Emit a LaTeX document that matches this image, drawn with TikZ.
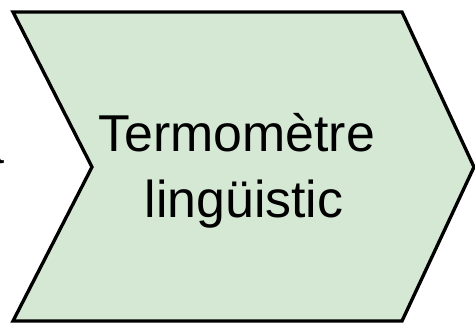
\documentclass[tikz,border=0pt]{standalone}
\usepackage{fontspec}
\setmainfont{Liberation Sans}
\usetikzlibrary{positioning}
\definecolor{stepgreen}{HTML}{D5E8D4}

\begin{document}
\begin{tikzpicture}[
            x=0.02cm, y=-0.02cm,
            chevron/.style={draw=black, line width=1.9pt, fill=stepgreen},
            lab/.style={inner sep=0pt, align=center, font=\fontsize{29.5}{37.5}\selectfont}
        ]
        \useasboundingbox (0,0) rectangle (475,332);

        % shape
        \draw[chevron] (13,12) -- (402,12) -- (474,167) -- (402,321) -- (13,321) -- (92,167) -- cycle;

        % nodes
        \node[lab] (step) at (244,171) {Termomètre\kern0.278em\\lingüistic};
        \node[lab, anchor=base east] (prev) at (5,163) {a};

    \end{tikzpicture}
\end{document}
